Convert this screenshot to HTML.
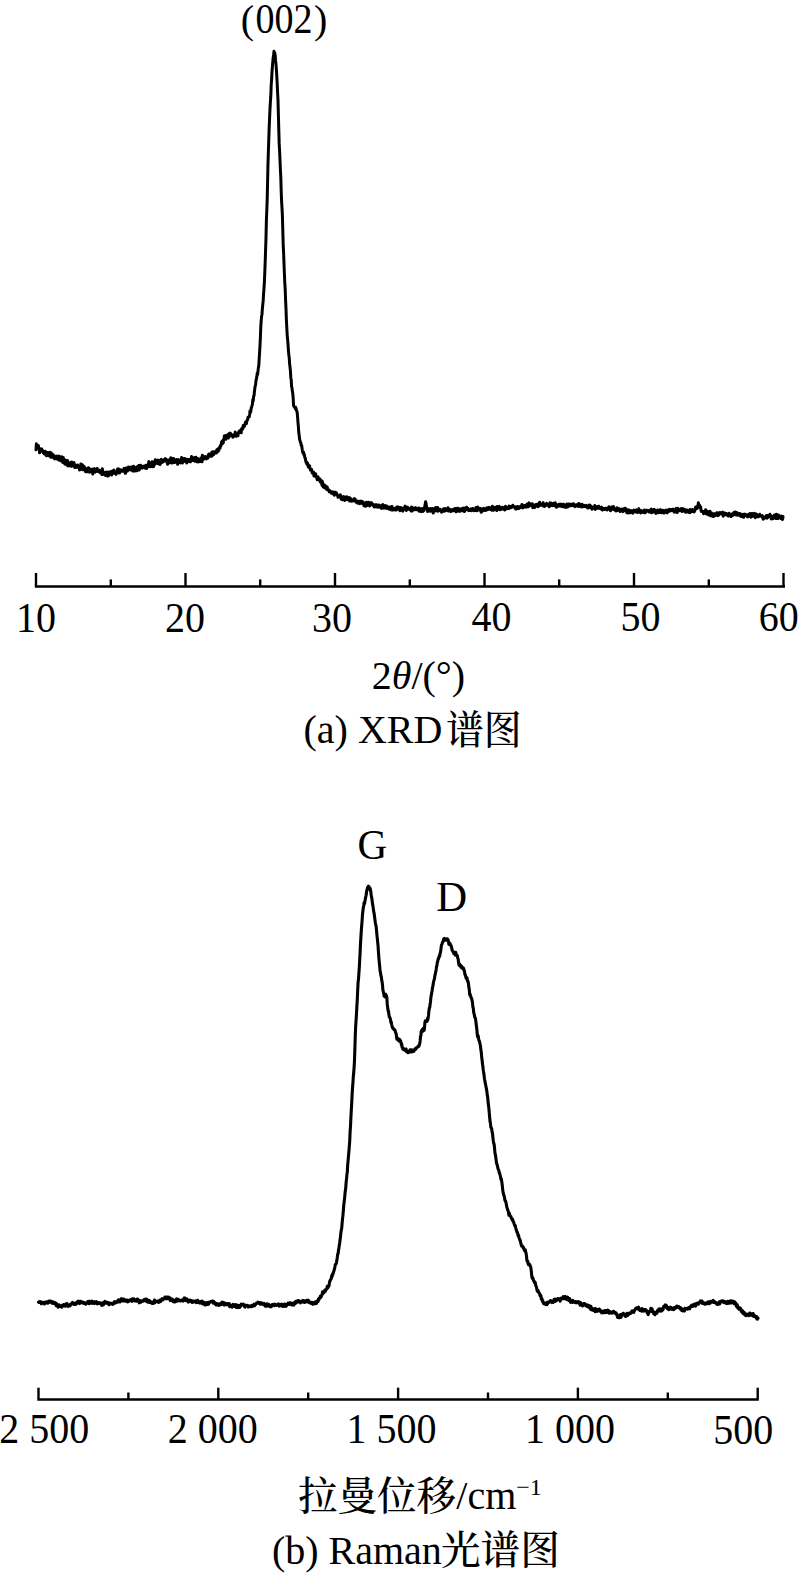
<!DOCTYPE html>
<html><head><meta charset="utf-8"><title>XRD and Raman spectra</title>
<style>
html,body{margin:0;padding:0;background:#fff;}
body{width:800px;height:1576px;overflow:hidden;}
svg{display:block;}
text{font-family:"Liberation Serif", "Noto Serif CJK SC", serif;fill:#000;}
</style></head><body>
<svg width="800" height="1576" viewBox="0 0 800 1576">
<rect width="800" height="1576" fill="#fff"/>
<line x1="34.8" y1="586.5" x2="785" y2="586.5" stroke="#000" stroke-width="2.7"/>
<line x1="36.0" y1="573" x2="36.0" y2="586" stroke="#000" stroke-width="2.4"/>
<line x1="185.5" y1="573" x2="185.5" y2="586" stroke="#000" stroke-width="2.4"/>
<line x1="335.0" y1="573" x2="335.0" y2="586" stroke="#000" stroke-width="2.4"/>
<line x1="484.5" y1="573" x2="484.5" y2="586" stroke="#000" stroke-width="2.4"/>
<line x1="634.0" y1="573" x2="634.0" y2="586" stroke="#000" stroke-width="2.4"/>
<line x1="783.5" y1="573" x2="783.5" y2="586" stroke="#000" stroke-width="2.4"/>
<line x1="110.8" y1="579.4" x2="110.8" y2="586" stroke="#000" stroke-width="2.4"/>
<line x1="260.2" y1="579.4" x2="260.2" y2="586" stroke="#000" stroke-width="2.4"/>
<line x1="409.8" y1="579.4" x2="409.8" y2="586" stroke="#000" stroke-width="2.4"/>
<line x1="559.2" y1="579.4" x2="559.2" y2="586" stroke="#000" stroke-width="2.4"/>
<line x1="708.8" y1="579.4" x2="708.8" y2="586" stroke="#000" stroke-width="2.4"/>
<line x1="37.3" y1="1399.5" x2="758.8" y2="1399.5" stroke="#000" stroke-width="2.7"/>
<line x1="38.5" y1="1387.7" x2="38.5" y2="1399" stroke="#000" stroke-width="2.4"/>
<line x1="218.3" y1="1387.7" x2="218.3" y2="1399" stroke="#000" stroke-width="2.4"/>
<line x1="398.1" y1="1387.7" x2="398.1" y2="1399" stroke="#000" stroke-width="2.4"/>
<line x1="577.9" y1="1387.7" x2="577.9" y2="1399" stroke="#000" stroke-width="2.4"/>
<line x1="757.7" y1="1387.7" x2="757.7" y2="1399" stroke="#000" stroke-width="2.4"/>
<line x1="128.4" y1="1392.5" x2="128.4" y2="1399" stroke="#000" stroke-width="2.4"/>
<line x1="308.2" y1="1392.5" x2="308.2" y2="1399" stroke="#000" stroke-width="2.4"/>
<line x1="488.0" y1="1392.5" x2="488.0" y2="1399" stroke="#000" stroke-width="2.4"/>
<line x1="667.8" y1="1392.5" x2="667.8" y2="1399" stroke="#000" stroke-width="2.4"/>


<text x="240.80" y="32.60" font-size="40">(</text>
<text transform="translate(255.62,32.80) scale(0.95,1.06)" font-size="40">002</text>
<text x="314.12" y="32.60" font-size="40">)</text>
<text transform="translate(16.05,631.50) scale(1.0000,1.0350)" font-size="40">10</text>
<text transform="translate(165.05,631.50) scale(1.0000,1.0350)" font-size="40">20</text>
<text transform="translate(312.00,631.50) scale(1.0000,1.0350)" font-size="40">30</text>
<text transform="translate(471.45,631.40) scale(1.0000,1.0350)" font-size="40">40</text>
<text transform="translate(620.50,631.40) scale(1.0000,1.0350)" font-size="40">50</text>
<text transform="translate(758.65,630.85) scale(1.0000,1.0350)" font-size="40">60</text>
<text x="371.75" y="689.00" font-size="40">2<tspan font-style="italic">θ</tspan>/(°)</text>
<text x="303.55" y="743.20" font-size="40">(a) XRD</text>
<text transform="translate(445.99,744.10) scale(0.9466,1.0000)" font-size="40"><tspan font-weight="500">谱图</tspan></text>
<text transform="translate(357.40,859.35) scale(1.0300,1.0700)" font-size="40">G</text>
<text transform="translate(436.20,910.50) scale(1.0700,1.0300)" font-size="40">D</text>
<text transform="translate(-0.85,1443.20) scale(1.0000,1.0650)" font-size="40">2 500</text>
<text transform="translate(167.80,1442.80) scale(1.0000,1.0650)" font-size="40">2 000</text>
<text transform="translate(346.60,1443.00) scale(1.0000,1.0650)" font-size="40">1 500</text>
<text transform="translate(524.90,1443.00) scale(1.0000,1.0650)" font-size="40">1 000</text>
<text transform="translate(713.20,1443.50) scale(1.0000,1.0650)" font-size="40">500</text>
<text transform="translate(297.96,1509.90) scale(0.9891,1.0000)" font-size="40"><tspan font-weight="500">拉曼位移</tspan></text>
<text x="456.30" y="1509.00" font-size="40">/cm<tspan font-size="24" dy="-14.5">−1</tspan></text>
<text x="271.90" y="1564.20" font-size="40">(b) Raman</text>
<text transform="translate(440.91,1564.30) scale(0.9919,1.0000)" font-size="40"><tspan font-weight="500">光谱图</tspan></text>

<path d="M36.00,449.8 36.40,443.8 36.80,448.1 37.20,446.9 37.60,447.5 38.00,448.2 38.40,445.6 38.80,448.7 39.20,448.0 39.60,452.8 40.00,450.1 40.40,449.4 40.80,449.7 41.20,449.3 41.60,448.8 42.00,450.1 42.40,451.7 42.80,450.7 43.20,452.8 43.60,451.1 44.00,451.6 44.40,454.1 44.80,452.7 45.20,451.2 45.60,451.9 46.00,453.3 46.40,455.8 46.80,452.5 47.20,452.9 47.60,455.1 48.00,452.4 48.40,453.6 48.80,455.8 49.20,455.6 49.60,455.1 50.00,456.2 50.40,452.2 50.80,457.2 51.20,454.2 51.60,453.3 52.00,456.5 52.40,457.3 52.80,455.5 53.20,454.6 53.60,456.4 54.00,456.3 54.40,458.7 54.80,457.7 55.20,457.0 55.60,458.7 56.00,456.9 56.40,456.0 56.80,458.8 57.20,459.1 57.60,458.1 58.00,457.4 58.40,459.3 58.80,455.9 59.20,460.3 59.60,460.1 60.00,456.8 60.40,459.7 60.80,458.2 61.20,461.1 61.60,456.8 62.00,458.7 62.40,461.5 62.80,462.4 63.20,457.5 63.60,460.1 64.00,461.6 64.40,460.3 64.80,464.1 65.20,459.9 65.60,462.6 66.00,460.7 66.40,464.8 66.80,462.8 67.20,462.5 67.60,460.5 68.00,466.1 68.40,464.8 68.80,464.9 69.20,465.6 69.60,464.4 70.00,462.9 70.40,462.7 70.80,462.8 71.20,466.3 71.60,461.9 72.00,463.5 72.40,464.1 72.80,465.1 73.20,465.9 73.60,463.2 74.00,462.6 74.40,465.5 74.80,467.6 75.20,467.0 75.60,466.2 76.00,465.4 76.40,466.4 76.80,465.7 77.20,467.4 77.60,465.0 78.00,466.6 78.40,466.3 78.80,467.5 79.20,467.1 79.60,470.1 80.00,469.4 80.40,469.5 80.80,464.1 81.20,466.9 81.60,466.6 82.00,468.6 82.40,464.7 82.80,469.8 83.20,469.8 83.60,466.1 84.00,466.7 84.40,467.0 84.80,468.5 85.20,469.5 85.60,471.8 86.00,468.4 86.40,470.0 86.80,469.2 87.20,471.8 87.60,470.3 88.00,471.5 88.40,467.7 88.80,469.3 89.20,468.4 89.60,472.3 90.00,471.1 90.40,469.7 90.80,469.6 91.20,471.2 91.60,469.5 92.00,469.2 92.40,471.5 92.80,474.0 93.20,470.5 93.60,470.0 94.00,469.0 94.40,468.7 94.80,471.6 95.20,472.1 95.60,470.7 96.00,471.3 96.40,471.0 96.80,471.1 97.20,468.6 97.60,470.4 98.00,471.4 98.40,470.1 98.80,470.6 99.20,470.1 99.60,470.9 100.00,472.8 100.40,470.8 100.80,471.3 101.20,472.9 101.60,472.7 102.00,474.6 102.40,468.8 102.80,473.6 103.20,471.6 103.60,472.7 104.00,474.0 104.40,474.5 104.80,474.4 105.20,473.0 105.60,475.4 106.00,472.3 106.40,472.5 106.80,474.0 107.20,471.9 107.60,476.0 108.00,474.4 108.40,476.0 108.80,472.8 109.20,472.2 109.60,473.0 110.00,473.9 110.40,471.7 110.80,473.2 111.20,472.4 111.60,475.0 112.00,471.2 112.40,473.9 112.80,471.1 113.20,470.5 113.60,470.9 114.00,470.0 114.40,472.1 114.80,473.5 115.20,472.1 115.60,472.8 116.00,474.4 116.40,472.2 116.80,472.0 117.20,471.2 117.60,469.1 118.00,472.8 118.40,468.7 118.80,472.5 119.20,471.3 119.60,473.0 120.00,471.0 120.40,469.7 120.80,471.5 121.20,470.0 121.60,470.6 122.00,471.1 122.40,470.9 122.80,471.0 123.20,470.1 123.60,471.2 124.00,468.4 124.40,471.4 124.80,469.7 125.20,473.3 125.60,473.3 126.00,467.9 126.40,471.0 126.80,470.3 127.20,468.6 127.60,470.9 128.00,469.1 128.40,466.9 128.80,469.1 129.20,469.2 129.60,469.4 130.00,467.2 130.40,470.0 130.80,470.0 131.20,466.9 131.60,467.5 132.00,468.3 132.40,467.4 132.80,471.0 133.20,468.4 133.60,466.3 134.00,466.6 134.40,467.7 134.80,471.0 135.20,467.4 135.60,467.9 136.00,468.5 136.40,467.6 136.80,470.8 137.20,466.7 137.60,468.7 138.00,467.7 138.40,468.3 138.80,465.4 139.20,470.0 139.60,466.8 140.00,466.9 140.40,465.2 140.80,465.4 141.20,467.3 141.60,467.9 142.00,467.5 142.40,468.1 142.80,467.3 143.20,466.2 143.60,467.5 144.00,467.1 144.40,466.0 144.80,467.3 145.20,468.1 145.60,466.3 146.00,465.3 146.40,466.8 146.80,468.5 147.20,464.9 147.60,464.9 148.00,464.6 148.40,466.6 148.80,461.6 149.20,465.0 149.60,466.3 150.00,463.1 150.40,466.8 150.80,465.2 151.20,463.4 151.60,464.6 152.00,461.7 152.40,463.1 152.80,466.8 153.20,462.3 153.60,466.5 154.00,463.2 154.40,464.8 154.80,463.1 155.20,459.8 155.60,462.0 156.00,463.2 156.40,461.0 156.80,460.7 157.20,463.4 157.60,461.8 158.00,460.1 158.40,461.6 158.80,463.9 159.20,461.6 159.60,463.7 160.00,464.4 160.40,461.8 160.80,459.8 161.20,459.4 161.60,461.3 162.00,462.6 162.40,461.5 162.80,461.9 163.20,460.3 163.60,461.5 164.00,460.2 164.40,460.5 164.80,459.0 165.20,458.6 165.60,460.4 166.00,459.4 166.40,459.6 166.80,462.2 167.20,461.0 167.60,464.3 168.00,462.6 168.40,460.1 168.80,462.3 169.20,461.6 169.60,460.0 170.00,462.8 170.40,459.8 170.80,457.7 171.20,462.2 171.60,459.8 172.00,463.1 172.40,459.6 172.80,458.6 173.20,462.8 173.60,458.6 174.00,460.6 174.40,462.6 174.80,460.6 175.20,460.4 175.60,460.8 176.00,462.1 176.40,459.6 176.80,462.0 177.20,462.0 177.60,464.3 178.00,460.6 178.40,459.6 178.80,462.3 179.20,460.4 179.60,461.5 180.00,461.2 180.40,462.9 180.80,459.9 181.20,460.7 181.60,457.5 182.00,459.2 182.40,463.0 182.80,459.4 183.20,459.3 183.60,458.5 184.00,461.3 184.40,460.7 184.80,458.5 185.20,461.5 185.60,460.9 186.00,461.6 186.40,459.3 186.80,463.1 187.20,460.9 187.60,460.0 188.00,459.3 188.40,459.6 188.80,461.3 189.20,459.5 189.60,461.6 190.00,460.7 190.40,461.9 190.80,460.9 191.20,459.4 191.60,456.4 192.00,459.8 192.40,460.5 192.80,459.4 193.20,459.9 193.60,458.2 194.00,458.4 194.40,457.5 194.80,461.3 195.20,459.4 195.60,458.5 196.00,457.2 196.40,459.2 196.80,461.8 197.20,460.3 197.60,458.5 198.00,462.0 198.40,462.0 198.80,461.3 199.20,460.9 199.60,461.5 200.00,460.4 200.40,460.7 200.80,458.0 201.20,461.5 201.60,459.2 202.00,461.8 202.40,455.2 202.80,459.4 203.20,459.6 203.60,457.4 204.00,458.5 204.40,458.8 204.80,458.4 205.20,456.5 205.60,457.0 206.00,458.7 206.40,458.9 206.80,456.9 207.20,456.8 207.60,456.8 208.00,458.1 208.40,454.6 208.80,454.1 209.20,456.3 209.60,454.2 210.00,454.9 210.40,455.8 210.80,456.2 211.20,453.6 211.60,456.3 212.00,452.0 212.40,455.4 212.80,451.8 213.20,452.0 213.60,454.7 214.00,452.7 214.40,451.8 214.80,452.0 215.20,453.2 215.60,452.0 216.00,451.7 216.40,453.0 216.80,449.8 217.20,449.7 217.60,449.2 218.00,451.4 218.40,450.7 218.80,450.6 219.20,448.0 219.60,447.2 220.00,448.2 220.40,445.4 220.80,446.4 221.20,445.1 221.60,441.8 222.00,441.7 222.40,440.9 222.80,443.3 223.20,443.2 223.60,439.4 224.00,439.2 224.40,435.7 224.80,438.9 225.20,438.3 225.60,436.4 226.00,439.2 226.40,435.2 226.80,437.2 227.20,437.5 227.60,435.0 228.00,438.1 228.40,438.1 228.80,433.8 229.20,433.5 229.60,436.4 230.00,435.1 230.40,433.1 230.80,434.4 231.20,434.6 231.60,434.5 232.00,435.9 232.40,435.1 232.80,437.3 233.20,436.5 233.60,435.3 234.00,435.9 234.40,436.2 234.80,435.2 235.20,432.0 235.60,435.3 236.00,433.9 236.40,436.3 236.80,433.8 237.20,434.4 237.60,433.8 238.00,435.7 238.40,433.0 238.80,431.8 239.20,432.3 239.60,430.7 240.00,431.2 240.40,430.6 240.80,430.6 241.20,432.8 241.60,428.7 242.00,428.9 242.40,428.0 242.80,428.9 243.20,425.4 243.60,425.6 244.00,426.1 244.40,426.4 244.80,424.8 245.20,423.4 245.60,422.0 246.00,423.2 246.40,423.7 246.80,421.0 247.20,420.1 247.60,419.9 248.00,417.2 248.40,417.7 248.80,417.0 249.20,416.9 249.60,414.7 250.00,410.9 250.40,412.5 250.80,411.7 251.20,408.1 251.60,407.4 252.00,405.6 252.40,404.4 252.80,399.7 253.20,401.1 253.60,396.3 254.00,395.8 254.40,391.8 254.80,388.6 255.20,386.1 255.60,384.7 256.00,380.4 256.40,379.0 256.80,376.9 257.20,373.3 257.60,374.5 258.00,371.1 258.40,367.6 258.80,365.6 259.20,358.7 259.60,352.4 260.00,345.6 260.40,337.3 260.80,326.7 261.20,320.3 261.60,316.2 262.00,314.2 262.40,308.3 262.80,304.4 263.20,300.4 263.60,293.3 264.00,288.4 264.40,281.9 264.80,272.4 265.20,261.7 265.60,249.6 266.00,237.7 266.40,220.1 266.80,210.4 267.20,199.2 267.60,181.3 268.00,163.4 268.40,150.8 268.80,138.7 269.20,127.2 269.60,117.9 270.00,108.6 270.40,101.8 270.80,96.2 271.20,85.0 271.60,79.9 272.00,71.6 272.40,66.6 272.80,61.6 273.20,57.5 273.60,55.0 274.00,51.2 274.40,52.3 274.80,53.1 275.20,55.5 275.60,60.9 276.00,64.3 276.40,69.6 276.80,76.2 277.20,83.8 277.60,92.6 278.00,100.1 278.40,115.0 278.80,129.9 279.20,143.9 279.60,150.8 280.00,159.9 280.40,169.7 280.80,177.2 281.20,191.0 281.60,201.6 282.00,207.8 282.40,215.6 282.80,230.0 283.20,244.8 283.60,252.6 284.00,263.5 284.40,273.7 284.80,283.2 285.20,289.2 285.60,300.5 286.00,308.9 286.40,320.3 286.80,327.6 287.20,335.1 287.60,339.3 288.00,343.8 288.40,349.9 288.80,355.0 289.20,357.2 289.60,363.6 290.00,366.9 290.40,370.7 290.80,377.7 291.20,379.8 291.60,386.7 292.00,387.9 292.40,391.7 292.80,393.5 293.20,398.6 293.60,405.8 294.00,406.2 294.40,407.0 294.80,407.1 295.20,408.7 295.60,407.3 296.00,408.5 296.40,410.5 296.80,410.8 297.20,412.6 297.60,417.1 298.00,422.8 298.40,426.9 298.80,432.8 299.20,435.5 299.60,439.2 300.00,440.5 300.40,442.0 300.80,442.7 301.20,445.6 301.60,445.1 302.00,448.0 302.40,450.7 302.80,452.8 303.20,453.2 303.60,452.2 304.00,455.0 304.40,454.7 304.80,457.7 305.20,457.8 305.60,460.0 306.00,462.3 306.40,461.9 306.80,464.0 307.20,462.8 307.60,463.0 308.00,465.8 308.40,467.1 308.80,465.3 309.20,466.9 309.60,465.9 310.00,468.1 310.40,470.0 310.80,469.6 311.20,469.7 311.60,469.4 312.00,472.1 312.40,473.2 312.80,473.4 313.20,473.5 313.60,472.2 314.00,476.1 314.40,474.5 314.80,474.8 315.20,476.3 315.60,473.7 316.00,476.4 316.40,476.9 316.80,477.9 317.20,479.6 317.60,479.0 318.00,476.8 318.40,478.9 318.80,480.0 319.20,480.3 319.60,479.1 320.00,479.1 320.40,482.1 320.80,482.3 321.20,482.3 321.60,480.8 322.00,485.3 322.40,481.5 322.80,483.9 323.20,487.1 323.60,485.1 324.00,486.0 324.40,484.8 324.80,488.1 325.20,485.4 325.60,487.5 326.00,487.8 326.40,486.8 326.80,489.4 327.20,487.1 327.60,488.4 328.00,489.5 328.40,489.5 328.80,490.9 329.20,491.8 329.60,490.7 330.00,490.8 330.40,491.1 330.80,491.6 331.20,493.2 331.60,492.2 332.00,493.1 332.40,492.6 332.80,491.9 333.20,494.0 333.60,491.9 334.00,493.3 334.40,495.2 334.80,492.4 335.20,493.8 335.60,492.3 336.00,493.8 336.40,492.9 336.80,494.4 337.20,494.4 337.60,495.4 338.00,497.3 338.40,496.1 338.80,496.7 339.20,496.1 339.60,496.1 340.00,495.7 340.40,494.8 340.80,497.2 341.20,499.2 341.60,498.0 342.00,497.0 342.40,499.7 342.80,497.4 343.20,497.2 343.60,496.6 344.00,497.0 344.40,497.9 344.80,500.5 345.20,498.1 345.60,497.3 346.00,497.9 346.40,498.4 346.80,496.8 347.20,499.0 347.60,499.7 348.00,499.4 348.40,499.8 348.80,497.8 349.20,497.5 349.60,501.1 350.00,501.1 350.40,498.2 350.80,500.4 351.20,500.4 351.60,501.1 352.00,500.8 352.40,500.1 352.80,500.9 353.20,500.9 353.60,500.8 354.00,498.7 354.40,498.6 354.80,500.1 355.20,499.2 355.60,501.5 356.00,502.2 356.40,501.8 356.80,501.2 357.20,501.8 357.60,503.2 358.00,501.1 358.40,503.0 358.80,502.8 359.20,502.3 359.60,503.7 360.00,501.3 360.40,503.3 360.80,501.3 361.20,501.6 361.60,501.4 362.00,503.3 362.40,501.9 362.80,503.3 363.20,502.0 363.60,504.7 364.00,505.8 364.40,504.0 364.80,505.8 365.20,504.6 365.60,506.3 366.00,504.2 366.40,502.3 366.80,505.8 367.20,503.9 367.60,502.8 368.00,503.3 368.40,502.2 368.80,503.9 369.20,503.0 369.60,506.0 370.00,505.2 370.40,502.7 370.80,503.0 371.20,504.2 371.60,502.7 372.00,504.8 372.40,505.0 372.80,504.2 373.20,504.5 373.60,505.7 374.00,506.8 374.40,507.0 374.80,505.4 375.20,506.4 375.60,504.8 376.00,506.3 376.40,504.9 376.80,507.0 377.20,504.9 377.60,505.4 378.00,506.6 378.40,507.3 378.80,505.1 379.20,506.2 379.60,506.9 380.00,507.1 380.40,505.8 380.80,506.9 381.20,506.5 381.60,508.4 382.00,507.4 382.40,505.2 382.80,504.5 383.20,506.9 383.60,508.1 384.00,507.0 384.40,507.9 384.80,506.4 385.20,505.5 385.60,508.1 386.00,507.5 386.40,508.3 386.80,506.0 387.20,507.9 387.60,507.1 388.00,508.7 388.40,507.2 388.80,507.1 389.20,507.1 389.60,509.3 390.00,507.9 390.40,507.1 390.80,506.9 391.20,507.1 391.60,510.1 392.00,506.4 392.40,507.6 392.80,509.3 393.20,510.0 393.60,508.4 394.00,509.4 394.40,509.3 394.80,509.4 395.20,508.3 395.60,510.1 396.00,508.4 396.40,510.0 396.80,507.0 397.20,509.4 397.60,507.0 398.00,506.8 398.40,509.1 398.80,507.7 399.20,509.2 399.60,507.5 400.00,510.7 400.40,508.9 400.80,507.6 401.20,509.2 401.60,510.0 402.00,508.1 402.40,509.5 402.80,511.1 403.20,509.8 403.60,508.7 404.00,508.0 404.40,509.3 404.80,506.8 405.20,506.2 405.60,507.7 406.00,507.2 406.40,510.5 406.80,508.7 407.20,507.4 407.60,507.3 408.00,509.3 408.40,507.9 408.80,508.2 409.20,508.9 409.60,509.2 410.00,509.2 410.40,509.2 410.80,510.5 411.20,511.0 411.60,507.0 412.00,511.1 412.40,509.0 412.80,510.3 413.20,508.0 413.60,509.2 414.00,509.0 414.40,508.9 414.80,509.7 415.20,509.4 415.60,507.6 416.00,508.6 416.40,509.7 416.80,509.7 417.20,508.7 417.60,508.9 418.00,509.1 418.40,508.1 418.80,508.0 419.20,511.3 419.60,509.1 420.00,509.7 420.40,508.7 420.80,511.1 421.20,511.6 421.60,509.3 422.00,510.1 422.40,508.5 422.80,511.4 423.20,510.3 423.60,508.2 424.00,510.5 424.40,508.4 424.80,506.2 425.20,503.9 425.60,501.7 426.00,502.9 426.40,506.5 426.80,508.0 427.20,508.0 427.60,511.5 428.00,509.1 428.40,508.8 428.80,508.8 429.20,510.5 429.60,511.0 430.00,510.3 430.40,511.2 430.80,508.6 431.20,510.1 431.60,510.2 432.00,510.8 432.40,511.4 432.80,508.5 433.20,513.0 433.60,509.6 434.00,510.9 434.40,511.2 434.80,511.1 435.20,510.3 435.60,507.5 436.00,508.6 436.40,510.7 436.80,508.7 437.20,508.6 437.60,507.5 438.00,511.3 438.40,510.6 438.80,509.1 439.20,510.1 439.60,510.3 440.00,509.2 440.40,510.3 440.80,511.0 441.20,511.4 441.60,512.2 442.00,510.7 442.40,510.0 442.80,510.9 443.20,509.5 443.60,508.7 444.00,511.3 444.40,509.5 444.80,510.0 445.20,510.6 445.60,508.6 446.00,510.7 446.40,510.5 446.80,509.9 447.20,510.6 447.60,509.3 448.00,507.8 448.40,509.8 448.80,509.1 449.20,511.1 449.60,510.4 450.00,509.4 450.40,510.0 450.80,511.5 451.20,511.2 451.60,510.3 452.00,510.4 452.40,509.6 452.80,509.9 453.20,510.8 453.60,510.0 454.00,510.6 454.40,509.0 454.80,508.4 455.20,508.4 455.60,509.8 456.00,511.8 456.40,511.6 456.80,509.0 457.20,508.3 457.60,510.9 458.00,510.5 458.40,508.3 458.80,511.1 459.20,510.1 459.60,511.4 460.00,510.3 460.40,510.9 460.80,510.2 461.20,508.7 461.60,509.5 462.00,509.0 462.40,510.8 462.80,508.7 463.20,508.1 463.60,510.7 464.00,511.2 464.40,511.5 464.80,511.0 465.20,507.9 465.60,508.8 466.00,508.9 466.40,509.5 466.80,507.2 467.20,509.5 467.60,509.8 468.00,508.4 468.40,509.6 468.80,510.7 469.20,509.4 469.60,510.5 470.00,510.4 470.40,509.8 470.80,509.8 471.20,508.9 471.60,510.8 472.00,508.9 472.40,508.6 472.80,510.2 473.20,508.6 473.60,509.9 474.00,510.6 474.40,509.4 474.80,509.5 475.20,510.4 475.60,510.2 476.00,507.5 476.40,507.8 476.80,510.8 477.20,509.7 477.60,506.9 478.00,507.7 478.40,509.3 478.80,508.2 479.20,510.0 479.60,509.7 480.00,510.3 480.40,508.5 480.80,510.7 481.20,512.3 481.60,509.1 482.00,511.6 482.40,511.1 482.80,510.6 483.20,509.7 483.60,508.3 484.00,508.4 484.40,510.2 484.80,510.4 485.20,510.6 485.60,510.3 486.00,510.2 486.40,508.7 486.80,507.8 487.20,509.5 487.60,509.8 488.00,509.4 488.40,507.5 488.80,508.6 489.20,507.4 489.60,509.2 490.00,507.7 490.40,508.6 490.80,509.1 491.20,508.8 491.60,510.2 492.00,507.3 492.40,506.2 492.80,509.7 493.20,510.2 493.60,510.3 494.00,509.1 494.40,509.4 494.80,508.9 495.20,507.3 495.60,508.0 496.00,509.2 496.40,507.8 496.80,510.6 497.20,506.5 497.60,507.7 498.00,509.4 498.40,507.3 498.80,506.7 499.20,506.4 499.60,507.2 500.00,509.8 500.40,508.7 500.80,508.8 501.20,507.7 501.60,509.3 502.00,508.4 502.40,507.2 502.80,507.7 503.20,508.3 503.60,509.3 504.00,507.8 504.40,508.3 504.80,510.0 505.20,506.8 505.60,506.3 506.00,508.9 506.40,508.3 506.80,507.7 507.20,508.2 507.60,507.5 508.00,508.4 508.40,507.3 508.80,508.5 509.20,506.1 509.60,506.3 510.00,507.3 510.40,506.6 510.80,507.8 511.20,507.0 511.60,506.4 512.00,507.2 512.40,506.4 512.80,505.2 513.20,505.7 513.60,506.1 514.00,506.4 514.40,507.1 514.80,508.0 515.20,507.6 515.60,509.0 516.00,508.4 516.40,506.7 516.80,508.9 517.20,508.4 517.60,506.5 518.00,507.5 518.40,508.4 518.80,507.4 519.20,508.3 519.60,507.5 520.00,507.7 520.40,506.3 520.80,507.0 521.20,506.0 521.60,507.2 522.00,504.4 522.40,506.8 522.80,507.9 523.20,507.1 523.60,506.5 524.00,507.1 524.40,505.4 524.80,505.4 525.20,505.8 525.60,506.0 526.00,507.2 526.40,504.9 526.80,507.0 527.20,503.9 527.60,504.7 528.00,505.4 528.40,506.7 528.80,504.6 529.20,502.9 529.60,505.7 530.00,505.3 530.40,504.1 530.80,504.2 531.20,504.7 531.60,505.6 532.00,506.3 532.40,503.8 532.80,507.7 533.20,505.3 533.60,504.9 534.00,506.0 534.40,505.3 534.80,507.4 535.20,506.3 535.60,504.6 536.00,504.5 536.40,504.4 536.80,504.5 537.20,505.7 537.60,504.1 538.00,506.7 538.40,504.7 538.80,504.6 539.20,505.8 539.60,502.3 540.00,503.5 540.40,505.3 540.80,504.6 541.20,504.6 541.60,505.1 542.00,504.1 542.40,504.6 542.80,503.3 543.20,502.7 543.60,506.3 544.00,503.8 544.40,504.0 544.80,506.4 545.20,505.9 545.60,504.0 546.00,504.0 546.40,504.4 546.80,503.4 547.20,505.1 547.60,504.6 548.00,504.6 548.40,505.4 548.80,505.4 549.20,506.7 549.60,506.4 550.00,502.7 550.40,505.8 550.80,503.4 551.20,503.1 551.60,505.5 552.00,503.8 552.40,504.1 552.80,505.6 553.20,503.6 553.60,503.3 554.00,504.7 554.40,505.8 554.80,505.1 555.20,502.8 555.60,504.0 556.00,504.7 556.40,507.2 556.80,506.1 557.20,506.1 557.60,506.6 558.00,504.9 558.40,505.9 558.80,505.9 559.20,504.2 559.60,505.3 560.00,506.0 560.40,504.1 560.80,506.2 561.20,506.1 561.60,506.4 562.00,504.3 562.40,505.3 562.80,506.8 563.20,506.1 563.60,504.2 564.00,505.4 564.40,506.8 564.80,505.1 565.20,505.6 565.60,507.5 566.00,505.2 566.40,505.1 566.80,504.1 567.20,504.6 567.60,507.1 568.00,505.2 568.40,504.0 568.80,504.2 569.20,505.3 569.60,506.0 570.00,504.2 570.40,505.8 570.80,504.3 571.20,505.2 571.60,505.4 572.00,505.5 572.40,504.4 572.80,504.8 573.20,505.7 573.60,503.7 574.00,505.5 574.40,505.9 574.80,506.6 575.20,505.4 575.60,505.3 576.00,505.7 576.40,504.7 576.80,505.3 577.20,506.1 577.60,505.9 578.00,504.4 578.40,505.3 578.80,503.4 579.20,506.6 579.60,505.0 580.00,505.9 580.40,504.4 580.80,505.6 581.20,506.2 581.60,506.9 582.00,504.2 582.40,506.8 582.80,505.7 583.20,505.1 583.60,506.6 584.00,505.8 584.40,505.9 584.80,505.6 585.20,506.7 585.60,506.5 586.00,506.3 586.40,505.4 586.80,505.9 587.20,506.9 587.60,507.9 588.00,506.4 588.40,508.0 588.80,506.3 589.20,505.1 589.60,507.1 590.00,505.3 590.40,506.9 590.80,507.7 591.20,506.2 591.60,506.6 592.00,509.2 592.40,507.3 592.80,507.5 593.20,508.2 593.60,507.3 594.00,507.4 594.40,508.0 594.80,505.4 595.20,509.4 595.60,506.6 596.00,506.6 596.40,508.6 596.80,508.0 597.20,506.6 597.60,508.3 598.00,506.7 598.40,507.2 598.80,506.2 599.20,506.9 599.60,508.2 600.00,507.9 600.40,508.1 600.80,508.9 601.20,507.8 601.60,507.2 602.00,507.7 602.40,510.1 602.80,508.4 603.20,508.8 603.60,508.5 604.00,509.1 604.40,509.4 604.80,509.0 605.20,508.9 605.60,508.3 606.00,508.2 606.40,509.6 606.80,509.9 607.20,509.9 607.60,508.8 608.00,507.7 608.40,509.3 608.80,509.2 609.20,506.8 609.60,509.5 610.00,509.3 610.40,510.7 610.80,507.6 611.20,507.5 611.60,509.9 612.00,507.0 612.40,508.2 612.80,507.7 613.20,507.7 613.60,506.6 614.00,508.5 614.40,509.9 614.80,509.4 615.20,509.5 615.60,508.7 616.00,510.9 616.40,510.0 616.80,510.7 617.20,507.8 617.60,510.0 618.00,508.4 618.40,510.2 618.80,510.1 619.20,508.7 619.60,510.3 620.00,511.5 620.40,510.8 620.80,511.0 621.20,509.3 621.60,509.5 622.00,509.0 622.40,510.4 622.80,511.6 623.20,510.7 623.60,510.2 624.00,508.9 624.40,510.8 624.80,510.0 625.20,508.2 625.60,508.5 626.00,510.3 626.40,509.8 626.80,512.8 627.20,511.1 627.60,509.9 628.00,510.6 628.40,513.0 628.80,510.1 629.20,512.1 629.60,511.7 630.00,512.8 630.40,511.7 630.80,510.6 631.20,511.6 631.60,511.1 632.00,512.1 632.40,510.9 632.80,513.2 633.20,510.8 633.60,511.4 634.00,510.1 634.40,511.0 634.80,510.8 635.20,511.0 635.60,511.9 636.00,510.2 636.40,509.9 636.80,512.2 637.20,510.7 637.60,510.3 638.00,512.4 638.40,512.0 638.80,508.8 639.20,510.7 639.60,512.0 640.00,512.1 640.40,510.6 640.80,513.0 641.20,510.4 641.60,511.0 642.00,511.4 642.40,511.2 642.80,512.1 643.20,512.3 643.60,511.0 644.00,512.6 644.40,510.1 644.80,510.6 645.20,512.7 645.60,510.9 646.00,512.0 646.40,510.3 646.80,510.5 647.20,510.7 647.60,511.0 648.00,510.4 648.40,510.8 648.80,511.5 649.20,512.1 649.60,510.8 650.00,511.5 650.40,511.8 650.80,509.6 651.20,509.1 651.60,512.8 652.00,512.5 652.40,511.0 652.80,511.4 653.20,510.0 653.60,509.5 654.00,511.5 654.40,509.5 654.80,512.3 655.20,510.5 655.60,511.6 656.00,513.4 656.40,513.3 656.80,510.8 657.20,512.3 657.60,509.9 658.00,510.4 658.40,511.5 658.80,512.7 659.20,510.4 659.60,511.7 660.00,511.2 660.40,509.6 660.80,510.9 661.20,512.8 661.60,511.0 662.00,511.7 662.40,512.1 662.80,510.3 663.20,512.6 663.60,513.0 664.00,513.1 664.40,512.7 664.80,510.7 665.20,510.5 665.60,510.3 666.00,510.1 666.40,510.2 666.80,512.3 667.20,512.8 667.60,510.4 668.00,512.1 668.40,509.7 668.80,510.8 669.20,510.0 669.60,509.3 670.00,511.1 670.40,511.1 670.80,510.4 671.20,510.2 671.60,509.6 672.00,510.5 672.40,509.9 672.80,510.8 673.20,509.1 673.60,510.8 674.00,511.2 674.40,512.1 674.80,511.9 675.20,510.9 675.60,509.9 676.00,508.6 676.40,510.6 676.80,512.2 677.20,512.5 677.60,508.2 678.00,509.7 678.40,510.1 678.80,509.3 679.20,510.7 679.60,510.6 680.00,509.9 680.40,510.5 680.80,508.7 681.20,509.4 681.60,509.4 682.00,511.5 682.40,508.5 682.80,510.1 683.20,511.1 683.60,510.1 684.00,511.0 684.40,509.3 684.80,510.4 685.20,510.9 685.60,512.2 686.00,510.7 686.40,511.6 686.80,510.0 687.20,510.2 687.60,512.0 688.00,510.9 688.40,511.9 688.80,511.2 689.20,512.6 689.60,512.7 690.00,509.4 690.40,512.5 690.80,510.9 691.20,511.0 691.60,510.5 692.00,511.5 692.40,509.5 692.80,510.0 693.20,510.1 693.60,511.3 694.00,511.9 694.40,511.5 694.80,510.7 695.20,509.1 695.60,507.1 696.00,509.0 696.40,508.0 696.80,507.7 697.20,508.4 697.60,505.9 698.00,505.3 698.40,502.8 698.80,505.7 699.20,505.4 699.60,505.3 700.00,507.5 700.40,506.6 700.80,507.9 701.20,511.4 701.60,510.7 702.00,511.5 702.40,511.7 702.80,511.8 703.20,511.6 703.60,513.8 704.00,511.6 704.40,512.7 704.80,511.8 705.20,511.7 705.60,509.8 706.00,510.0 706.40,514.1 706.80,514.0 707.20,511.9 707.60,512.5 708.00,513.3 708.40,511.6 708.80,515.0 709.20,511.9 709.60,512.5 710.00,511.2 710.40,515.5 710.80,514.0 711.20,516.0 711.60,513.1 712.00,514.7 712.40,514.4 712.80,514.5 713.20,516.5 713.60,516.5 714.00,515.7 714.40,513.6 714.80,515.0 715.20,515.4 715.60,514.5 716.00,514.5 716.40,514.4 716.80,512.8 717.20,514.2 717.60,515.8 718.00,512.9 718.40,514.2 718.80,515.1 719.20,512.7 719.60,514.2 720.00,512.4 720.40,513.7 720.80,512.8 721.20,513.4 721.60,513.9 722.00,514.1 722.40,514.2 722.80,512.1 723.20,516.2 723.60,514.0 724.00,513.0 724.40,513.6 724.80,514.6 725.20,513.1 725.60,513.8 726.00,513.8 726.40,515.0 726.80,513.6 727.20,515.1 727.60,515.0 728.00,514.5 728.40,516.1 728.80,514.7 729.20,513.3 729.60,515.0 730.00,514.8 730.40,514.5 730.80,514.7 731.20,516.6 731.60,514.4 732.00,514.6 732.40,513.7 732.80,515.4 733.20,513.8 733.60,512.9 734.00,512.4 734.40,514.4 734.80,514.6 735.20,511.9 735.60,512.9 736.00,514.5 736.40,515.0 736.80,512.4 737.20,513.6 737.60,515.2 738.00,513.9 738.40,514.2 738.80,514.3 739.20,513.6 739.60,515.3 740.00,515.7 740.40,513.7 740.80,515.5 741.20,516.6 741.60,515.6 742.00,516.4 742.40,514.7 742.80,516.8 743.20,514.3 743.60,517.3 744.00,514.6 744.40,514.3 744.80,514.1 745.20,514.7 745.60,514.7 746.00,514.5 746.40,515.0 746.80,516.2 747.20,516.5 747.60,515.1 748.00,516.9 748.40,514.4 748.80,514.3 749.20,514.1 749.60,516.1 750.00,513.5 750.40,513.7 750.80,516.7 751.20,517.2 751.60,516.8 752.00,513.5 752.40,515.3 752.80,516.2 753.20,515.4 753.60,513.5 754.00,514.9 754.40,513.4 754.80,514.0 755.20,517.7 755.60,516.3 756.00,513.9 756.40,513.9 756.80,516.3 757.20,515.2 757.60,516.8 758.00,515.5 758.40,516.1 758.80,516.6 759.20,515.2 759.60,514.2 760.00,515.0 760.40,515.6 760.80,516.2 761.20,516.4 761.60,516.4 762.00,517.1 762.40,515.6 762.80,518.3 763.20,519.1 763.60,517.3 764.00,517.1 764.40,518.4 764.80,517.8 765.20,517.3 765.60,516.9 766.00,516.2 766.40,515.6 766.80,517.7 767.20,518.2 767.60,515.5 768.00,516.6 768.40,516.9 768.80,516.1 769.20,515.6 769.60,516.0 770.00,514.2 770.40,516.4 770.80,516.2 771.20,518.9 771.60,517.7 772.00,516.2 772.40,516.7 772.80,518.7 773.20,518.6 773.60,516.9 774.00,516.6 774.40,515.0 774.80,516.3 775.20,516.4 775.60,515.7 776.00,518.5 776.40,514.3 776.80,516.3 777.20,516.9 777.60,517.0 778.00,518.5 778.40,515.1 778.80,516.0 779.20,517.1 779.60,517.2 780.00,516.7 780.40,516.4 780.80,518.5 781.20,516.1 781.60,516.7 782.00,519.0 782.40,519.4 782.80,518.4 783.00,516.4" fill="none" stroke="#000" stroke-width="3.0" stroke-linejoin="round" stroke-linecap="round"/>
<path d="M38.50,1302.1 38.90,1302.4 39.30,1302.0 39.70,1301.6 40.10,1302.0 40.50,1301.7 40.90,1302.6 41.30,1303.8 41.70,1302.4 42.10,1302.3 42.50,1303.3 42.90,1303.3 43.30,1303.2 43.70,1302.5 44.10,1303.3 44.50,1304.0 44.90,1302.4 45.30,1303.1 45.70,1302.0 46.10,1302.4 46.50,1301.9 46.90,1303.0 47.30,1302.1 47.70,1303.2 48.10,1303.0 48.50,1302.5 48.90,1301.0 49.30,1302.0 49.70,1302.3 50.10,1302.3 50.50,1301.0 50.90,1301.8 51.30,1301.5 51.70,1301.6 52.10,1303.2 52.50,1301.8 52.90,1302.5 53.30,1303.3 53.70,1302.3 54.10,1302.8 54.50,1303.3 54.90,1303.5 55.30,1302.9 55.70,1304.3 56.10,1305.6 56.50,1303.6 56.90,1305.8 57.30,1305.4 57.70,1304.9 58.10,1307.1 58.50,1306.3 58.90,1304.8 59.30,1305.9 59.70,1306.4 60.10,1305.8 60.50,1306.5 60.90,1305.9 61.30,1306.5 61.70,1307.1 62.10,1305.3 62.50,1306.0 62.90,1305.4 63.30,1305.8 63.70,1304.7 64.10,1305.1 64.50,1305.3 64.90,1306.1 65.30,1306.2 65.70,1304.1 66.10,1304.5 66.50,1305.7 66.90,1303.6 67.30,1304.9 67.70,1305.3 68.10,1306.4 68.50,1305.9 68.90,1305.0 69.30,1304.9 69.70,1304.8 70.10,1305.9 70.50,1304.1 70.90,1303.9 71.30,1304.1 71.70,1303.5 72.10,1303.2 72.50,1302.4 72.90,1303.3 73.30,1303.0 73.70,1304.4 74.10,1304.1 74.50,1303.6 74.90,1304.2 75.30,1303.4 75.70,1304.5 76.10,1303.5 76.50,1303.8 76.90,1302.2 77.30,1303.3 77.70,1301.5 78.10,1301.1 78.50,1302.3 78.90,1301.7 79.30,1302.3 79.70,1303.6 80.10,1301.2 80.50,1301.3 80.90,1302.0 81.30,1302.3 81.70,1301.9 82.10,1302.1 82.50,1303.1 82.90,1303.2 83.30,1302.2 83.70,1303.2 84.10,1303.4 84.50,1302.6 84.90,1303.6 85.30,1302.8 85.70,1304.2 86.10,1303.6 86.50,1303.4 86.90,1302.9 87.30,1303.2 87.70,1301.6 88.10,1302.3 88.50,1303.4 88.90,1301.4 89.30,1303.6 89.70,1301.4 90.10,1303.3 90.50,1301.9 90.90,1303.1 91.30,1302.4 91.70,1301.0 92.10,1303.1 92.50,1303.3 92.90,1302.1 93.30,1302.0 93.70,1302.2 94.10,1301.6 94.50,1303.4 94.90,1302.1 95.30,1302.6 95.70,1302.0 96.10,1302.2 96.50,1301.7 96.90,1303.8 97.30,1302.8 97.70,1303.8 98.10,1303.1 98.50,1302.6 98.90,1303.0 99.30,1302.9 99.70,1303.5 100.10,1303.3 100.50,1303.5 100.90,1302.8 101.30,1303.3 101.70,1305.4 102.10,1303.5 102.50,1303.2 102.90,1304.2 103.30,1304.9 103.70,1302.4 104.10,1303.1 104.50,1302.5 104.90,1301.4 105.30,1303.2 105.70,1302.6 106.10,1302.7 106.50,1302.1 106.90,1303.2 107.30,1302.6 107.70,1303.2 108.10,1302.6 108.50,1302.6 108.90,1304.8 109.30,1303.3 109.70,1303.9 110.10,1303.6 110.50,1303.3 110.90,1303.2 111.30,1304.0 111.70,1303.3 112.10,1303.3 112.50,1303.4 112.90,1304.3 113.30,1303.7 113.70,1303.3 114.10,1302.4 114.50,1301.6 114.90,1303.2 115.30,1303.0 115.70,1301.9 116.10,1302.2 116.50,1302.2 116.90,1302.0 117.30,1301.9 117.70,1300.6 118.10,1302.1 118.50,1299.8 118.90,1301.4 119.30,1301.0 119.70,1301.2 120.10,1301.9 120.50,1301.4 120.90,1299.2 121.30,1298.7 121.70,1300.7 122.10,1299.3 122.50,1300.2 122.90,1301.0 123.30,1299.2 123.70,1299.1 124.10,1301.0 124.50,1301.0 124.90,1300.8 125.30,1301.1 125.70,1300.5 126.10,1300.0 126.50,1301.2 126.90,1300.6 127.30,1300.1 127.70,1301.8 128.10,1301.3 128.50,1301.6 128.90,1300.3 129.30,1300.4 129.70,1300.0 130.10,1299.9 130.50,1300.5 130.90,1299.6 131.30,1300.3 131.70,1300.2 132.10,1301.4 132.50,1298.7 132.90,1300.5 133.30,1299.8 133.70,1300.0 134.10,1298.9 134.50,1299.8 134.90,1300.8 135.30,1300.1 135.70,1300.2 136.10,1300.0 136.50,1301.2 136.90,1300.5 137.30,1299.1 137.70,1300.4 138.10,1299.7 138.50,1299.9 138.90,1301.2 139.30,1302.8 139.70,1301.8 140.10,1300.7 140.50,1300.8 140.90,1302.2 141.30,1301.3 141.70,1301.0 142.10,1300.8 142.50,1300.7 142.90,1301.2 143.30,1301.0 143.70,1300.6 144.10,1299.5 144.50,1300.6 144.90,1299.5 145.30,1300.9 145.70,1299.0 146.10,1300.0 146.50,1300.2 146.90,1299.3 147.30,1302.0 147.70,1302.1 148.10,1300.8 148.50,1302.1 148.90,1302.0 149.30,1300.4 149.70,1302.4 150.10,1302.2 150.50,1302.5 150.90,1301.6 151.30,1302.3 151.70,1302.4 152.10,1303.5 152.50,1302.7 152.90,1302.4 153.30,1303.5 153.70,1301.6 154.10,1301.5 154.50,1300.1 154.90,1302.7 155.30,1302.0 155.70,1301.9 156.10,1301.7 156.50,1301.3 156.90,1301.4 157.30,1301.1 157.70,1301.2 158.10,1301.4 158.50,1302.5 158.90,1301.7 159.30,1301.0 159.70,1300.3 160.10,1300.0 160.50,1301.6 160.90,1300.5 161.30,1299.9 161.70,1299.4 162.10,1298.6 162.50,1299.3 162.90,1299.9 163.30,1298.7 163.70,1298.7 164.10,1298.6 164.50,1298.7 164.90,1297.2 165.30,1298.1 165.70,1297.5 166.10,1298.7 166.50,1297.1 166.90,1298.0 167.30,1298.7 167.70,1297.2 168.10,1297.0 168.50,1297.8 168.90,1297.9 169.30,1297.4 169.70,1298.9 170.10,1300.4 170.50,1298.9 170.90,1299.3 171.30,1298.9 171.70,1300.2 172.10,1299.1 172.50,1299.4 172.90,1301.5 173.30,1299.8 173.70,1301.4 174.10,1301.8 174.50,1300.7 174.90,1300.9 175.30,1301.9 175.70,1300.0 176.10,1299.6 176.50,1298.9 176.90,1299.9 177.30,1301.1 177.70,1300.7 178.10,1299.3 178.50,1299.5 178.90,1299.9 179.30,1300.7 179.70,1300.4 180.10,1300.8 180.50,1300.9 180.90,1300.3 181.30,1300.4 181.70,1300.5 182.10,1300.0 182.50,1300.3 182.90,1301.2 183.30,1300.0 183.70,1299.5 184.10,1298.1 184.50,1299.8 184.90,1298.1 185.30,1298.7 185.70,1300.7 186.10,1300.7 186.50,1300.1 186.90,1298.9 187.30,1300.1 187.70,1299.9 188.10,1301.0 188.50,1302.1 188.90,1300.8 189.30,1300.2 189.70,1300.1 190.10,1301.1 190.50,1301.2 190.90,1300.5 191.30,1301.6 191.70,1300.6 192.10,1302.4 192.50,1302.3 192.90,1302.3 193.30,1301.0 193.70,1301.9 194.10,1301.5 194.50,1301.4 194.90,1301.6 195.30,1300.9 195.70,1300.8 196.10,1302.6 196.50,1301.7 196.90,1302.0 197.30,1302.5 197.70,1300.3 198.10,1301.1 198.50,1301.9 198.90,1302.3 199.30,1301.8 199.70,1303.1 200.10,1302.5 200.50,1301.5 200.90,1301.7 201.30,1303.1 201.70,1302.9 202.10,1301.0 202.50,1303.7 202.90,1303.2 203.30,1303.9 203.70,1302.7 204.10,1302.9 204.50,1302.4 204.90,1305.0 205.30,1303.4 205.70,1304.9 206.10,1303.3 206.50,1304.0 206.90,1302.5 207.30,1303.5 207.70,1304.5 208.10,1302.6 208.50,1304.2 208.90,1303.4 209.30,1302.0 209.70,1302.1 210.10,1302.0 210.50,1302.1 210.90,1301.6 211.30,1301.3 211.70,1301.7 212.10,1301.2 212.50,1301.1 212.90,1302.2 213.30,1303.1 213.70,1301.4 214.10,1302.8 214.50,1302.5 214.90,1302.5 215.30,1304.1 215.70,1303.2 216.10,1305.0 216.50,1303.4 216.90,1304.5 217.30,1304.1 217.70,1303.9 218.10,1305.1 218.50,1304.6 218.90,1305.3 219.30,1304.8 219.70,1303.8 220.10,1304.5 220.50,1304.4 220.90,1304.9 221.30,1303.2 221.70,1303.7 222.10,1302.2 222.50,1304.1 222.90,1302.8 223.30,1302.3 223.70,1303.9 224.10,1305.1 224.50,1303.1 224.90,1303.6 225.30,1303.8 225.70,1303.5 226.10,1304.6 226.50,1303.6 226.90,1303.6 227.30,1304.7 227.70,1303.7 228.10,1304.8 228.50,1303.9 228.90,1303.9 229.30,1303.6 229.70,1306.8 230.10,1305.1 230.50,1305.7 230.90,1305.5 231.30,1305.8 231.70,1305.7 232.10,1307.2 232.50,1304.9 232.90,1304.5 233.30,1304.9 233.70,1304.6 234.10,1306.3 234.50,1306.4 234.90,1305.0 235.30,1304.7 235.70,1305.7 236.10,1307.3 236.50,1304.7 236.90,1306.9 237.30,1305.8 237.70,1307.6 238.10,1305.9 238.50,1306.5 238.90,1305.4 239.30,1305.7 239.70,1307.5 240.10,1306.9 240.50,1305.7 240.90,1305.1 241.30,1304.1 241.70,1305.1 242.10,1305.2 242.50,1305.0 242.90,1305.0 243.30,1304.2 243.70,1305.1 244.10,1305.3 244.50,1306.5 244.90,1307.1 245.30,1305.6 245.70,1305.2 246.10,1305.8 246.50,1305.5 246.90,1305.5 247.30,1306.1 247.70,1305.4 248.10,1306.9 248.50,1306.4 248.90,1306.8 249.30,1306.5 249.70,1306.1 250.10,1305.9 250.50,1306.5 250.90,1306.2 251.30,1306.7 251.70,1306.4 252.10,1305.3 252.50,1306.4 252.90,1305.2 253.30,1305.6 253.70,1305.8 254.10,1304.2 254.50,1305.7 254.90,1305.4 255.30,1304.9 255.70,1304.3 256.10,1303.9 256.50,1303.1 256.90,1303.4 257.30,1302.9 257.70,1303.2 258.10,1302.1 258.50,1303.3 258.90,1303.3 259.30,1303.2 259.70,1303.2 260.10,1304.2 260.50,1302.5 260.90,1304.2 261.30,1304.0 261.70,1304.0 262.10,1304.1 262.50,1303.2 262.90,1303.7 263.30,1304.6 263.70,1304.7 264.10,1304.8 264.50,1303.7 264.90,1305.5 265.30,1306.2 265.70,1306.1 266.10,1305.5 266.50,1304.1 266.90,1306.2 267.30,1305.3 267.70,1303.9 268.10,1305.8 268.50,1304.3 268.90,1304.5 269.30,1305.0 269.70,1306.5 270.10,1305.2 270.50,1305.7 270.90,1306.9 271.30,1306.7 271.70,1305.3 272.10,1305.2 272.50,1304.3 272.90,1304.7 273.30,1305.5 273.70,1305.4 274.10,1305.1 274.50,1305.7 274.90,1304.2 275.30,1304.6 275.70,1305.2 276.10,1305.1 276.50,1305.4 276.90,1304.9 277.30,1304.4 277.70,1305.1 278.10,1304.2 278.50,1303.9 278.90,1305.9 279.30,1305.6 279.70,1306.0 280.10,1304.5 280.50,1305.6 280.90,1305.4 281.30,1305.2 281.70,1304.2 282.10,1305.5 282.50,1306.4 282.90,1306.0 283.30,1305.2 283.70,1305.6 284.10,1306.3 284.50,1304.0 284.90,1305.5 285.30,1305.9 285.70,1305.8 286.10,1306.3 286.50,1305.5 286.90,1304.5 287.30,1304.2 287.70,1304.3 288.10,1303.0 288.50,1303.1 288.90,1303.7 289.30,1304.5 289.70,1302.7 290.10,1302.8 290.50,1303.2 290.90,1304.3 291.30,1303.4 291.70,1304.9 292.10,1303.2 292.50,1304.0 292.90,1304.2 293.30,1305.0 293.70,1305.1 294.10,1302.9 294.50,1303.1 294.90,1303.8 295.30,1302.6 295.70,1301.4 296.10,1303.0 296.50,1302.2 296.90,1301.8 297.30,1300.8 297.70,1301.9 298.10,1300.8 298.50,1302.0 298.90,1300.7 299.30,1301.0 299.70,1302.2 300.10,1301.7 300.50,1302.9 300.90,1302.5 301.30,1301.4 301.70,1301.9 302.10,1301.2 302.50,1302.0 302.90,1300.5 303.30,1300.6 303.70,1301.9 304.10,1302.5 304.50,1302.5 304.90,1301.0 305.30,1301.1 305.70,1302.1 306.10,1300.9 306.50,1300.3 306.90,1301.2 307.30,1301.6 307.70,1300.7 308.10,1300.2 308.50,1300.6 308.90,1302.5 309.30,1301.5 309.70,1302.2 310.10,1302.7 310.50,1303.2 310.90,1302.6 311.30,1303.4 311.70,1302.4 312.10,1303.0 312.50,1302.5 312.90,1304.3 313.30,1303.4 313.70,1302.9 314.10,1303.2 314.50,1303.2 314.90,1303.8 315.30,1301.8 315.70,1301.9 316.10,1302.0 316.50,1303.4 316.90,1302.1 317.30,1300.8 317.70,1301.0 318.10,1301.5 318.50,1299.1 318.90,1298.4 319.30,1299.1 319.70,1297.9 320.10,1297.5 320.50,1296.0 320.90,1297.3 321.30,1296.6 321.70,1295.1 322.10,1294.6 322.50,1291.9 322.90,1293.6 323.30,1292.5 323.70,1292.6 324.10,1292.5 324.50,1291.3 324.90,1290.0 325.30,1291.2 325.70,1289.9 326.10,1289.7 326.50,1288.9 326.90,1288.4 327.30,1286.3 327.70,1288.1 328.10,1286.5 328.50,1286.3 328.90,1286.2 329.30,1283.7 329.70,1281.3 330.10,1281.0 330.50,1279.7 330.90,1279.2 331.30,1278.6 331.70,1275.8 332.10,1276.6 332.50,1274.0 332.90,1274.4 333.30,1272.9 333.70,1271.5 334.10,1270.4 334.50,1268.6 334.90,1267.1 335.30,1264.6 335.70,1264.3 336.10,1264.0 336.50,1262.3 336.90,1259.9 337.30,1257.4 337.70,1254.2 338.10,1253.8 338.50,1250.3 338.90,1247.9 339.30,1245.2 339.70,1242.8 340.10,1239.5 340.50,1236.6 340.90,1232.6 341.30,1229.9 341.70,1228.3 342.10,1223.1 342.50,1219.2 342.90,1215.6 343.30,1211.3 343.70,1205.6 344.10,1202.4 344.50,1199.3 344.90,1194.9 345.30,1190.9 345.70,1188.3 346.10,1182.7 346.50,1179.3 346.90,1174.7 347.30,1172.0 347.70,1164.6 348.10,1160.7 348.50,1155.7 348.90,1151.6 349.30,1146.5 349.70,1141.5 350.10,1132.0 350.50,1126.1 350.90,1117.7 351.30,1109.8 351.70,1103.1 352.10,1095.1 352.50,1088.1 352.90,1083.3 353.30,1076.9 353.70,1072.5 354.10,1067.6 354.50,1060.2 354.90,1048.0 355.30,1034.5 355.70,1025.8 356.10,1020.0 356.50,1013.3 356.90,1005.9 357.30,999.4 357.70,990.0 358.10,982.2 358.50,979.1 358.90,973.4 359.30,967.5 359.70,960.0 360.10,952.7 360.50,943.6 360.90,937.2 361.30,930.6 361.70,925.4 362.10,920.7 362.50,914.4 362.90,911.1 363.30,907.6 363.70,905.7 364.10,902.7 364.50,903.7 364.90,901.5 365.30,899.3 365.70,897.1 366.10,895.2 366.50,892.5 366.90,889.8 367.30,888.7 367.70,887.3 368.10,887.7 368.50,886.2 368.90,886.6 369.30,887.7 369.70,889.3 370.10,888.1 370.50,890.1 370.90,892.2 371.30,896.3 371.70,897.4 372.10,900.5 372.50,903.6 372.90,905.6 373.30,908.4 373.70,911.6 374.10,913.2 374.50,916.2 374.90,919.5 375.30,922.4 375.70,924.7 376.10,926.1 376.50,930.2 376.90,934.7 377.30,938.4 377.70,942.3 378.10,946.3 378.50,953.1 378.90,958.2 379.30,962.7 379.70,966.4 380.10,971.1 380.50,972.6 380.90,975.6 381.30,976.6 381.70,980.2 382.10,981.8 382.50,985.1 382.90,989.8 383.30,991.6 383.70,993.3 384.10,996.0 384.50,996.3 384.90,996.9 385.30,995.4 385.70,994.3 386.10,995.4 386.50,995.7 386.90,998.3 387.30,1004.4 387.70,1007.8 388.10,1010.8 388.50,1011.3 388.90,1014.6 389.30,1016.9 389.70,1017.2 390.10,1018.1 390.50,1019.5 390.90,1022.5 391.30,1022.1 391.70,1024.5 392.10,1026.4 392.50,1027.8 392.90,1027.6 393.30,1028.8 393.70,1028.9 394.10,1029.8 394.50,1030.1 394.90,1029.9 395.30,1031.4 395.70,1032.9 396.10,1033.4 396.50,1036.6 396.90,1039.3 397.30,1038.4 397.70,1039.5 398.10,1038.5 398.50,1040.3 398.90,1041.0 399.30,1041.1 399.70,1039.5 400.10,1040.6 400.50,1040.7 400.90,1041.9 401.30,1044.6 401.70,1043.9 402.10,1047.3 402.50,1047.4 402.90,1049.2 403.30,1048.7 403.70,1048.5 404.10,1049.5 404.50,1050.1 404.90,1049.8 405.30,1050.4 405.70,1049.9 406.10,1049.0 406.50,1051.7 406.90,1051.9 407.30,1051.7 407.70,1051.9 408.10,1052.7 408.50,1051.4 408.90,1051.1 409.30,1051.2 409.70,1052.1 410.10,1049.8 410.50,1051.8 410.90,1050.3 411.30,1050.0 411.70,1052.0 412.10,1051.0 412.50,1050.0 412.90,1050.6 413.30,1051.4 413.70,1051.4 414.10,1049.8 414.50,1050.2 414.90,1050.1 415.30,1048.7 415.70,1049.2 416.10,1048.5 416.50,1047.8 416.90,1047.5 417.30,1047.5 417.70,1047.1 418.10,1046.2 418.50,1045.8 418.90,1046.3 419.30,1044.6 419.70,1043.9 420.10,1041.0 420.50,1036.5 420.90,1035.3 421.30,1031.2 421.70,1031.2 422.10,1029.7 422.50,1031.3 422.90,1031.2 423.30,1028.4 423.70,1029.2 424.10,1030.4 424.50,1028.2 424.90,1022.4 425.30,1020.9 425.70,1021.1 426.10,1021.2 426.50,1020.6 426.90,1021.4 427.30,1018.7 427.70,1020.3 428.10,1017.9 428.50,1015.4 428.90,1011.0 429.30,1008.3 429.70,1007.5 430.10,1004.4 430.50,1001.5 430.90,997.3 431.30,995.1 431.70,992.8 432.10,990.7 432.50,987.5 432.90,986.3 433.30,983.3 433.70,981.2 434.10,979.9 434.50,978.5 434.90,975.6 435.30,973.8 435.70,971.9 436.10,970.0 436.50,966.7 436.90,965.6 437.30,962.4 437.70,961.5 438.10,959.1 438.50,958.8 438.90,957.6 439.30,955.7 439.70,956.2 440.10,953.3 440.50,952.4 440.90,949.5 441.30,946.1 441.70,944.5 442.10,943.8 442.50,942.5 442.90,941.7 443.30,940.8 443.70,939.1 444.10,940.0 444.50,938.4 444.90,940.3 445.30,939.4 445.70,939.3 446.10,939.7 446.50,940.1 446.90,938.7 447.30,938.7 447.70,939.8 448.10,939.8 448.50,941.4 448.90,944.2 449.30,942.7 449.70,944.6 450.10,943.4 450.50,945.2 450.90,945.3 451.30,946.3 451.70,947.8 452.10,950.2 452.50,950.5 452.90,951.7 453.30,951.6 453.70,953.3 454.10,952.9 454.50,954.0 454.90,953.5 455.30,955.1 455.70,952.4 456.10,954.0 456.50,955.4 456.90,954.9 457.30,955.7 457.70,957.8 458.10,958.8 458.50,961.8 458.90,964.9 459.30,965.3 459.70,964.1 460.10,964.8 460.50,965.6 460.90,967.1 461.30,966.0 461.70,966.4 462.10,968.0 462.50,968.4 462.90,967.8 463.30,968.0 463.70,968.8 464.10,970.8 464.50,971.1 464.90,974.6 465.30,974.6 465.70,976.4 466.10,978.3 466.50,978.6 466.90,977.6 467.30,980.2 467.70,981.6 468.10,981.5 468.50,983.8 468.90,987.6 469.30,989.7 469.70,995.0 470.10,994.0 470.50,995.7 470.90,997.1 471.30,997.8 471.70,999.0 472.10,1000.5 472.50,1002.7 472.90,1007.2 473.30,1008.2 473.70,1012.6 474.10,1013.8 474.50,1016.0 474.90,1017.5 475.30,1018.0 475.70,1020.0 476.10,1023.5 476.50,1026.7 476.90,1029.9 477.30,1035.1 477.70,1036.9 478.10,1035.5 478.50,1038.0 478.90,1040.5 479.30,1040.9 479.70,1042.3 480.10,1044.2 480.50,1046.6 480.90,1049.7 481.30,1052.5 481.70,1057.1 482.10,1060.2 482.50,1064.1 482.90,1066.7 483.30,1070.5 483.70,1072.5 484.10,1075.5 484.50,1079.0 484.90,1080.9 485.30,1083.2 485.70,1085.3 486.10,1087.2 486.50,1089.4 486.90,1091.7 487.30,1095.4 487.70,1097.1 488.10,1102.6 488.50,1105.2 488.90,1108.6 489.30,1113.4 489.70,1117.7 490.10,1121.8 490.50,1123.8 490.90,1127.5 491.30,1127.9 491.70,1128.9 492.10,1132.0 492.50,1133.3 492.90,1137.3 493.30,1140.8 493.70,1143.1 494.10,1144.2 494.50,1147.5 494.90,1152.5 495.30,1154.3 495.70,1156.8 496.10,1159.9 496.50,1162.8 496.90,1164.2 497.30,1165.2 497.70,1167.2 498.10,1169.1 498.50,1169.8 498.90,1170.8 499.30,1172.9 499.70,1173.3 500.10,1175.1 500.50,1176.5 500.90,1179.4 501.30,1178.7 501.70,1181.3 502.10,1184.0 502.50,1187.7 502.90,1191.4 503.30,1193.0 503.70,1194.8 504.10,1195.8 504.50,1197.7 504.90,1200.1 505.30,1201.0 505.70,1201.4 506.10,1203.3 506.50,1205.3 506.90,1207.4 507.30,1208.3 507.70,1210.3 508.10,1210.6 508.50,1212.3 508.90,1215.3 509.30,1213.1 509.70,1215.1 510.10,1216.1 510.50,1216.2 510.90,1216.5 511.30,1217.8 511.70,1218.7 512.10,1219.4 512.50,1218.9 512.90,1221.1 513.30,1221.3 513.70,1222.3 514.10,1223.7 514.50,1224.8 514.90,1225.9 515.30,1225.7 515.70,1227.9 516.10,1229.3 516.50,1230.6 516.90,1232.1 517.30,1232.2 517.70,1233.5 518.10,1235.6 518.50,1235.1 518.90,1237.6 519.30,1238.3 519.70,1239.7 520.10,1239.8 520.50,1241.6 520.90,1243.4 521.30,1245.1 521.70,1246.1 522.10,1245.9 522.50,1246.5 522.90,1246.5 523.30,1248.0 523.70,1247.9 524.10,1249.1 524.50,1250.6 524.90,1249.8 525.30,1249.8 525.70,1252.0 526.10,1253.6 526.50,1256.1 526.90,1260.3 527.30,1261.3 527.70,1261.1 528.10,1263.6 528.50,1264.7 528.90,1263.9 529.30,1264.1 529.70,1264.7 530.10,1265.7 530.50,1266.5 530.90,1267.9 531.30,1271.1 531.70,1275.3 532.10,1277.9 532.50,1278.6 532.90,1277.8 533.30,1279.8 533.70,1280.8 534.10,1280.9 534.50,1282.5 534.90,1282.2 535.30,1282.6 535.70,1285.5 536.10,1286.2 536.50,1287.3 536.90,1289.5 537.30,1291.0 537.70,1291.5 538.10,1290.5 538.50,1292.1 538.90,1292.8 539.30,1292.9 539.70,1294.3 540.10,1295.7 540.50,1295.1 540.90,1295.5 541.30,1299.2 541.70,1298.5 542.10,1299.0 542.50,1301.1 542.90,1302.0 543.30,1301.9 543.70,1303.7 544.10,1303.2 544.50,1303.0 544.90,1303.9 545.30,1304.4 545.70,1303.2 546.10,1303.8 546.50,1303.3 546.90,1304.7 547.30,1302.3 547.70,1303.7 548.10,1302.2 548.50,1301.8 548.90,1302.1 549.30,1302.0 549.70,1302.1 550.10,1301.3 550.50,1300.6 550.90,1300.7 551.30,1301.6 551.70,1301.8 552.10,1302.5 552.50,1301.7 552.90,1302.1 553.30,1302.3 553.70,1301.0 554.10,1299.4 554.50,1299.4 554.90,1299.1 555.30,1301.4 555.70,1299.2 556.10,1300.5 556.50,1299.7 556.90,1300.3 557.30,1299.5 557.70,1298.6 558.10,1298.6 558.50,1299.0 558.90,1299.3 559.30,1299.0 559.70,1299.7 560.10,1301.2 560.50,1298.4 560.90,1299.6 561.30,1298.2 561.70,1298.6 562.10,1298.7 562.50,1297.8 562.90,1298.4 563.30,1296.5 563.70,1298.7 564.10,1297.5 564.50,1298.6 564.90,1298.3 565.30,1296.6 565.70,1297.6 566.10,1298.4 566.50,1299.5 566.90,1298.5 567.30,1298.5 567.70,1297.2 568.10,1299.7 568.50,1300.3 568.90,1299.3 569.30,1299.5 569.70,1298.7 570.10,1301.1 570.50,1302.3 570.90,1301.5 571.30,1302.1 571.70,1301.7 572.10,1300.6 572.50,1302.4 572.90,1300.4 573.30,1301.2 573.70,1301.7 574.10,1302.3 574.50,1302.2 574.90,1302.4 575.30,1301.7 575.70,1301.5 576.10,1302.8 576.50,1302.4 576.90,1302.0 577.30,1302.1 577.70,1302.7 578.10,1301.6 578.50,1302.0 578.90,1301.8 579.30,1303.3 579.70,1303.6 580.10,1305.1 580.50,1302.5 580.90,1303.5 581.30,1305.0 581.70,1304.3 582.10,1304.3 582.50,1306.0 582.90,1304.4 583.30,1303.7 583.70,1303.6 584.10,1304.9 584.50,1305.0 584.90,1303.7 585.30,1304.2 585.70,1305.6 586.10,1305.8 586.50,1305.1 586.90,1306.3 587.30,1306.5 587.70,1304.9 588.10,1306.3 588.50,1307.2 588.90,1306.6 589.30,1305.6 589.70,1307.2 590.10,1308.1 590.50,1309.0 590.90,1306.3 591.30,1309.8 591.70,1307.7 592.10,1309.7 592.50,1310.2 592.90,1310.3 593.30,1309.9 593.70,1309.0 594.10,1310.5 594.50,1309.5 594.90,1308.5 595.30,1311.7 595.70,1310.6 596.10,1311.4 596.50,1309.1 596.90,1311.0 597.30,1311.1 597.70,1311.2 598.10,1310.1 598.50,1309.3 598.90,1310.4 599.30,1309.1 599.70,1309.5 600.10,1311.1 600.50,1310.3 600.90,1311.0 601.30,1311.1 601.70,1312.8 602.10,1312.4 602.50,1311.5 602.90,1312.6 603.30,1311.1 603.70,1311.5 604.10,1312.6 604.50,1310.8 604.90,1311.5 605.30,1310.5 605.70,1311.5 606.10,1312.6 606.50,1310.5 606.90,1311.2 607.30,1310.3 607.70,1310.1 608.10,1310.2 608.50,1312.5 608.90,1313.1 609.30,1312.1 609.70,1311.3 610.10,1312.6 610.50,1311.9 610.90,1312.9 611.30,1312.6 611.70,1312.7 612.10,1313.1 612.50,1312.2 612.90,1312.4 613.30,1311.3 613.70,1312.3 614.10,1311.6 614.50,1312.6 614.90,1312.1 615.30,1313.2 615.70,1313.8 616.10,1312.9 616.50,1313.9 616.90,1314.4 617.30,1316.2 617.70,1317.4 618.10,1317.0 618.50,1316.2 618.90,1317.7 619.30,1315.4 619.70,1317.7 620.10,1315.9 620.50,1314.5 620.90,1317.4 621.30,1316.8 621.70,1314.3 622.10,1315.0 622.50,1314.5 622.90,1314.6 623.30,1313.3 623.70,1314.0 624.10,1315.0 624.50,1314.9 624.90,1315.8 625.30,1315.0 625.70,1316.5 626.10,1314.4 626.50,1315.1 626.90,1313.2 627.30,1313.7 627.70,1315.6 628.10,1313.7 628.50,1314.7 628.90,1314.1 629.30,1313.1 629.70,1313.5 630.10,1313.0 630.50,1312.7 630.90,1313.3 631.30,1312.9 631.70,1311.5 632.10,1310.9 632.50,1311.6 632.90,1311.1 633.30,1311.8 633.70,1312.4 634.10,1311.3 634.50,1310.3 634.90,1309.9 635.30,1309.1 635.70,1308.7 636.10,1308.2 636.50,1308.4 636.90,1308.0 637.30,1308.7 637.70,1307.7 638.10,1307.9 638.50,1307.2 638.90,1309.7 639.30,1309.1 639.70,1310.4 640.10,1309.7 640.50,1310.4 640.90,1309.1 641.30,1310.0 641.70,1311.1 642.10,1308.6 642.50,1310.6 642.90,1311.1 643.30,1310.2 643.70,1310.5 644.10,1311.0 644.50,1309.5 644.90,1310.5 645.30,1309.5 645.70,1309.8 646.10,1310.0 646.50,1310.9 646.90,1311.8 647.30,1312.8 647.70,1311.8 648.10,1314.6 648.50,1313.7 648.90,1312.8 649.30,1311.3 649.70,1310.9 650.10,1310.8 650.50,1310.2 650.90,1308.3 651.30,1310.3 651.70,1311.5 652.10,1308.8 652.50,1311.6 652.90,1311.7 653.30,1311.8 653.70,1313.6 654.10,1312.0 654.50,1313.4 654.90,1314.7 655.30,1313.3 655.70,1312.9 656.10,1312.9 656.50,1312.0 656.90,1313.2 657.30,1310.7 657.70,1311.8 658.10,1309.9 658.50,1311.3 658.90,1310.5 659.30,1308.8 659.70,1310.3 660.10,1309.3 660.50,1309.7 660.90,1311.2 661.30,1308.9 661.70,1308.9 662.10,1310.7 662.50,1309.2 662.90,1309.8 663.30,1308.1 663.70,1306.3 664.10,1306.2 664.50,1306.6 664.90,1305.9 665.30,1304.9 665.70,1305.1 666.10,1305.4 666.50,1305.6 666.90,1308.4 667.30,1307.5 667.70,1307.2 668.10,1308.3 668.50,1309.6 668.90,1309.6 669.30,1308.8 669.70,1308.3 670.10,1308.7 670.50,1307.2 670.90,1307.4 671.30,1309.1 671.70,1308.0 672.10,1308.6 672.50,1309.3 672.90,1308.8 673.30,1308.2 673.70,1309.7 674.10,1308.6 674.50,1307.6 674.90,1308.5 675.30,1308.2 675.70,1307.1 676.10,1307.8 676.50,1307.5 676.90,1306.1 677.30,1307.5 677.70,1307.5 678.10,1307.4 678.50,1306.5 678.90,1307.6 679.30,1308.0 679.70,1308.3 680.10,1307.5 680.50,1309.2 680.90,1307.9 681.30,1308.9 681.70,1310.4 682.10,1309.0 682.50,1309.4 682.90,1310.9 683.30,1309.8 683.70,1309.9 684.10,1310.4 684.50,1311.0 684.90,1308.4 685.30,1309.2 685.70,1308.8 686.10,1308.6 686.50,1308.5 686.90,1308.4 687.30,1309.1 687.70,1308.0 688.10,1308.7 688.50,1308.7 688.90,1307.6 689.30,1308.0 689.70,1308.9 690.10,1307.5 690.50,1306.4 690.90,1306.6 691.30,1305.6 691.70,1306.3 692.10,1306.5 692.50,1304.9 692.90,1305.3 693.30,1306.2 693.70,1304.8 694.10,1305.2 694.50,1304.1 694.90,1304.1 695.30,1304.2 695.70,1306.1 696.10,1303.9 696.50,1303.6 696.90,1303.3 697.30,1303.4 697.70,1303.7 698.10,1303.1 698.50,1304.2 698.90,1302.5 699.30,1303.2 699.70,1302.2 700.10,1302.4 700.50,1300.9 700.90,1302.0 701.30,1302.2 701.70,1302.2 702.10,1301.0 702.50,1303.5 702.90,1302.7 703.30,1302.9 703.70,1303.3 704.10,1303.5 704.50,1304.1 704.90,1302.9 705.30,1303.2 705.70,1304.1 706.10,1303.8 706.50,1303.2 706.90,1302.8 707.30,1302.4 707.70,1302.8 708.10,1303.6 708.50,1301.7 708.90,1303.7 709.30,1303.1 709.70,1302.2 710.10,1303.2 710.50,1301.4 710.90,1301.2 711.30,1301.5 711.70,1302.1 712.10,1302.0 712.50,1301.7 712.90,1302.1 713.30,1300.4 713.70,1302.5 714.10,1301.2 714.50,1302.1 714.90,1302.6 715.30,1302.3 715.70,1302.3 716.10,1302.8 716.50,1303.8 716.90,1304.3 717.30,1304.4 717.70,1303.2 718.10,1303.3 718.50,1303.2 718.90,1304.1 719.30,1301.8 719.70,1304.0 720.10,1302.1 720.50,1301.4 720.90,1301.8 721.30,1301.9 721.70,1301.1 722.10,1301.5 722.50,1300.8 722.90,1301.8 723.30,1302.0 723.70,1301.1 724.10,1302.6 724.50,1301.9 724.90,1302.1 725.30,1301.6 725.70,1302.4 726.10,1303.4 726.50,1301.9 726.90,1303.6 727.30,1303.4 727.70,1303.3 728.10,1301.4 728.50,1302.9 728.90,1303.4 729.30,1302.2 729.70,1302.8 730.10,1301.0 730.50,1303.0 730.90,1301.9 731.30,1303.0 731.70,1300.7 732.10,1302.7 732.50,1301.9 732.90,1302.7 733.30,1301.3 733.70,1301.5 734.10,1303.8 734.50,1301.8 734.90,1302.3 735.30,1303.1 735.70,1303.0 736.10,1305.4 736.50,1306.4 736.90,1305.1 737.30,1304.9 737.70,1307.8 738.10,1308.2 738.50,1308.4 738.90,1309.1 739.30,1307.8 739.70,1308.6 740.10,1308.0 740.50,1308.3 740.90,1310.5 741.30,1309.6 741.70,1312.1 742.10,1311.0 742.50,1310.8 742.90,1312.4 743.30,1313.7 743.70,1313.0 744.10,1312.1 744.50,1313.8 744.90,1315.0 745.30,1313.9 745.70,1314.0 746.10,1315.7 746.50,1315.2 746.90,1314.2 747.30,1314.8 747.70,1314.4 748.10,1315.2 748.50,1314.9 748.90,1315.6 749.30,1315.1 749.70,1313.1 750.10,1314.6 750.50,1315.0 750.90,1314.6 751.30,1315.1 751.70,1313.9 752.10,1313.7 752.50,1315.4 752.90,1314.1 753.30,1313.7 753.70,1316.4 754.10,1315.4 754.50,1316.1 754.90,1315.6 755.30,1316.0 755.70,1316.5 756.10,1317.4 756.50,1318.3 756.90,1316.7 757.30,1319.2 757.70,1317.9 758.00,1318.3" fill="none" stroke="#000" stroke-width="3.1" stroke-linejoin="round" stroke-linecap="round"/>
</svg>
</body></html>
